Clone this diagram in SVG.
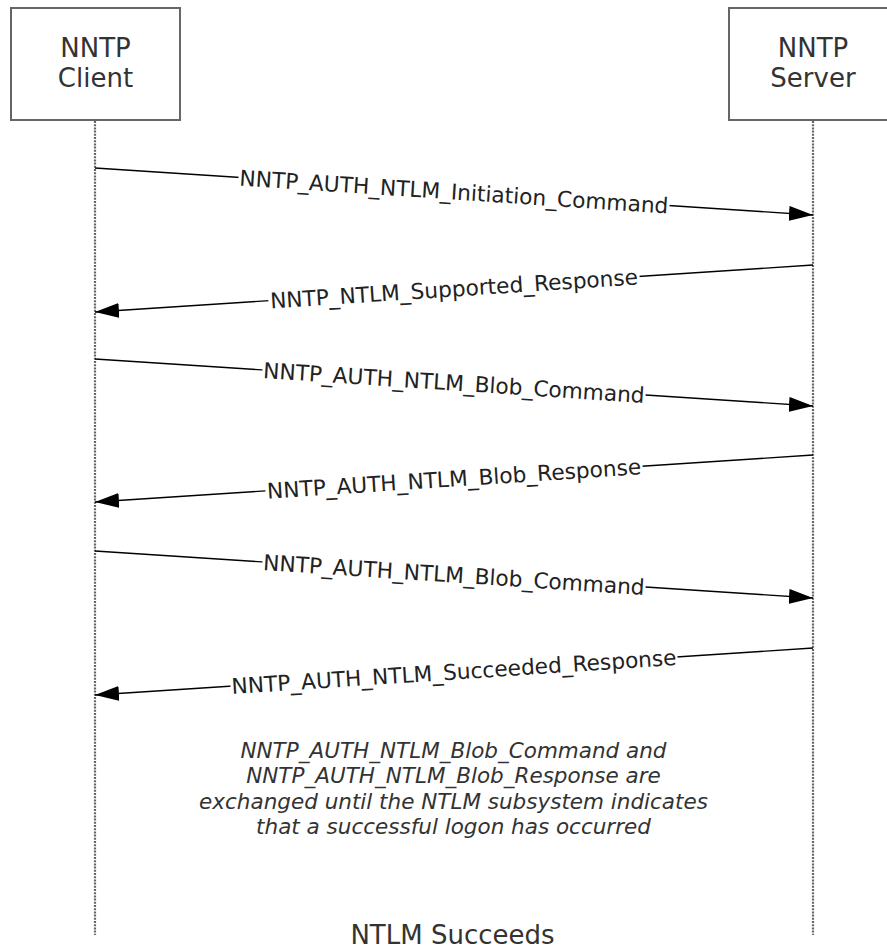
<svg xmlns="http://www.w3.org/2000/svg" width="887" height="951" viewBox="0 0 887 951">
<style>
.box{fill:#fff;stroke:#666;stroke-width:2}
.life{stroke:#666;stroke-width:2.2;stroke-dasharray:2 1.2;fill:none}
.msg{stroke:#000;stroke-width:1.4;fill:none}
.lbl{font-family:"DejaVu Sans",Verdana,sans-serif;font-size:21.7px;fill:#222;text-anchor:middle}
.bg{fill:#fff}
.title{font-family:"DejaVu Sans",Verdana,sans-serif;font-size:26px;fill:#333;text-anchor:middle}
.note{font-family:"DejaVu Sans",Verdana,sans-serif;font-size:21.5px;font-style:italic;fill:#333;text-anchor:middle}
</style>
<defs>
<marker id="ah" markerUnits="userSpaceOnUse" markerWidth="26" markerHeight="16" refX="24" refY="7.5" orient="auto">
<path d="M0,0 L24,7.5 L0,15 z" fill="#000"/>
</marker>
</defs>
<g id="client">
<rect class="box" x="11" y="8" width="169" height="112"/>
<text class="title" x="95.5" y="57">NNTP</text>
<text class="title" x="95.5" y="87">Client</text>
</g>
<g id="server">
<rect class="box" x="729" y="8" width="169" height="112"/>
<text class="title" x="813" y="57">NNTP</text>
<text class="title" x="813" y="87">Server</text>
</g>
<g id="lifelines">
<line class="life" x1="95" y1="121" x2="95" y2="935"/>
<line class="life" x1="813" y1="121" x2="813" y2="935"/>
</g>
<g id="connectors">
<g id="m1">
<line class="msg" x1="95" y1="168" x2="813" y2="215" marker-end="url(#ah)"/>
<g transform="translate(454,191.5) rotate(3.745)"><rect class="bg" x="-216" y="-10" width="432" height="21"/><text class="lbl" x="0" y="8">NNTP_AUTH_NTLM_Initiation_Command</text></g>
</g>
<g id="m2">
<line class="msg" x1="813" y1="265" x2="95" y2="312" marker-end="url(#ah)"/>
<g transform="translate(454,288.5) rotate(-3.745)"><rect class="bg" x="-186" y="-10" width="372" height="21"/><text class="lbl" x="0" y="8">NNTP_NTLM_Supported_Response</text></g>
</g>
<g id="m3">
<line class="msg" x1="95" y1="359" x2="813" y2="406" marker-end="url(#ah)"/>
<g transform="translate(454,382.5) rotate(3.745)"><rect class="bg" x="-192" y="-10" width="384" height="21"/><text class="lbl" x="0" y="8">NNTP_AUTH_NTLM_Blob_Command</text></g>
</g>
<g id="m4">
<line class="msg" x1="813" y1="455" x2="95" y2="502" marker-end="url(#ah)"/>
<g transform="translate(454,478.5) rotate(-3.745)"><rect class="bg" x="-189" y="-10" width="378" height="21"/><text class="lbl" x="0" y="8">NNTP_AUTH_NTLM_Blob_Response</text></g>
</g>
<g id="m5">
<line class="msg" x1="95" y1="551" x2="813" y2="598" marker-end="url(#ah)"/>
<g transform="translate(454,574.5) rotate(3.745)"><rect class="bg" x="-192" y="-10" width="384" height="21"/><text class="lbl" x="0" y="8">NNTP_AUTH_NTLM_Blob_Command</text></g>
</g>
<g id="m6">
<line class="msg" x1="813" y1="648" x2="95" y2="695" marker-end="url(#ah)"/>
<g transform="translate(454,671.5) rotate(-3.745)"><rect class="bg" x="-224" y="-10" width="448" height="21"/><text class="lbl" x="0" y="8">NNTP_AUTH_NTLM_Succeeded_Response</text></g>
</g>
</g>
<g id="note">
<text class="note" x="453.5" y="758">NNTP_AUTH_NTLM_Blob_Command and</text>
<text class="note" x="453.5" y="783">NNTP_AUTH_NTLM_Blob_Response are</text>
<text class="note" x="453.5" y="809">exchanged until the NTLM subsystem indicates</text>
<text class="note" x="453.5" y="834">that a successful logon has occurred</text>
</g>
<g id="footer">
<text class="title" x="452.5" y="944">NTLM Succeeds</text>
</g>
</svg>
